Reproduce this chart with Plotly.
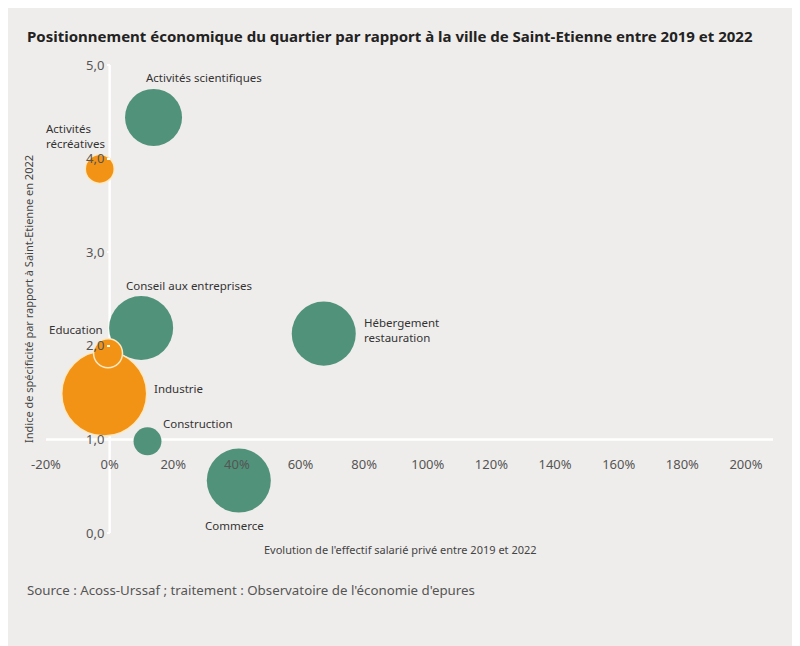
import plotly.graph_objects as go

# ---- data ----
secteurs = ["Activités scientifiques", "Activités<br>récréatives", "Conseil aux entreprises",
            "Hébergement<br>restauration", "Construction", "Commerce", "Industrie", "Education"]
evolution = [13.8, -3.1, 9.9, 67.3, 11.9, 40.6, -1.7, -0.5]          # % 2019-2022
indice = [4.44, 3.89, 2.19, 2.13, 0.98, 0.56, 1.49, 1.92]           # indice de spécificité
effectif = [325, 84, 410, 410, 78, 410, 722, 84]                   # bubble weight
groupe = ["g", "o", "g", "g", "g", "g", "o", "o"]

x_ticks = [-20, 0, 20, 40, 60, 80, 100, 120, 140, 160, 180, 200]
x_tick_labels = ["-20%", "0%", "20%", "40%", "60%", "80%", "100%", "120%", "140%", "160%", "180%", "200%"]
y_ticks = [0, 1, 2, 3, 4, 5]
y_tick_labels = ["0,0", "1,0", "2,0", "3,0", "4,0", "5,0"]

GREEN = "#51937a"
ORANGE = "#f39316"
BG = "#efedeb"
FONT = "Noto Sans"

OFF = 8  # page body margin
W, H = 800 - OFF, 646 - OFF
L, R, T, B = 46 - OFF, 27, 65 - OFF, 646 - 533
XR = [-20, 208.5]
YR = [0, 5]


def px_x(p):
    return (p - OFF - L) / (W - L - R)


def px_y(p):
    return (H - B - (p - OFF)) / (H - T - B)


fig = go.Figure()

# bubbles
for i in range(len(secteurs)):
    col = GREEN if groupe[i] == "g" else ORANGE
    line = dict(width=0) if groupe[i] == "g" else dict(width=1.5, color="#fbe9c4")
    fig.add_trace(go.Scatter(
        x=[evolution[i]], y=[indice[i]], mode="markers",
        marker=dict(size=[effectif[i]], sizemode="area", sizeref=0.2, color=col,
                    opacity=1, line=line),
        hoverinfo="skip", showlegend=False, cliponaxis=False))

# labels
lab_pos = {
    "Activités scientifiques": dict(xanchor="left", yanchor="middle", xshift=-10, yshift=40),
    "Activités<br>récréatives": dict(xanchor="left", yanchor="middle", xshift=-56, yshift=33, align="left"),
    "Conseil aux entreprises": dict(xanchor="left", yanchor="middle", xshift=-17, yshift=43),
    "Hébergement<br>restauration": dict(xanchor="left", yanchor="middle", xshift=38, yshift=4, align="left"),
    "Construction": dict(xanchor="left", yanchor="middle", xshift=14, yshift=18),
    "Commerce": dict(xanchor="center", yanchor="middle", xshift=-4, yshift=-45),
    "Industrie": dict(xanchor="left", yanchor="middle", xshift=48, yshift=5),
    "Education": dict(xanchor="right", yanchor="middle", xshift=-3, yshift=24),
}
for i, s in enumerate(secteurs):
    fig.add_annotation(x=evolution[i], y=indice[i], text=s, showarrow=False,
                       font=dict(family=FONT, size=11.5, color="#333333"), **lab_pos[s])

# axis lines
shapes = [
    dict(type="line", xref="x", yref="paper", x0=0, x1=0, y0=0, y1=1,
         line=dict(color="white", width=2.5), layer="below"),
    dict(type="line", xref="paper", yref="y", x0=0, x1=1, y0=1, y1=1,
         line=dict(color="white", width=2.5), layer="below"),
]

fig.add_annotation(xref="paper", yref="paper", x=px_x(25), y=px_y(36), xanchor="left", yanchor="middle",
                   text="<b>Positionnement économique du quartier par rapport à la ville de Saint-Etienne entre 2019 et 2022</b>",
                   showarrow=False, font=dict(family=FONT, size=15, color="#222222"))
fig.add_annotation(xref="paper", yref="paper", x=px_x(28), y=0.5, textangle=-90,
                   xanchor="center", yanchor="middle",
                   text="Indice de spécificité par rapport à Saint-Etienne en 2022",
                   showarrow=False, font=dict(family=FONT, size=11, color="#444444"))
fig.add_annotation(xref="paper", yref="paper", x=px_x(400), y=px_y(549),
                   xanchor="center", yanchor="middle",
                   text="Evolution de l'effectif salarié privé entre 2019 et 2022",
                   showarrow=False, font=dict(family=FONT, size=11, color="#444444"))
fig.add_annotation(xref="paper", yref="paper", x=px_x(25), y=px_y(590), xanchor="left", yanchor="middle",
                   text="Source : Acoss-Urssaf ; traitement : Observatoire de l'économie d'epures",
                   showarrow=False, font=dict(family=FONT, size=13.3, color="#555555"))

fig.update_layout(
    width=W, height=H, margin=dict(l=L, r=R, t=T, b=B, autoexpand=False),
    paper_bgcolor=BG, plot_bgcolor="rgba(0,0,0,0)",
    shapes=shapes, showlegend=False,
    xaxis=dict(range=XR, tickvals=x_ticks, ticktext=x_tick_labels, showgrid=False, zeroline=False,
               showline=False, anchor="free", position=0.2, ticks="outside", ticklen=13,
               tickcolor="rgba(0,0,0,0)", tickfont=dict(family=FONT, size=13, color="#555555"),
               layer="above traces"),
    yaxis=dict(range=YR, tickvals=y_ticks, ticktext=y_tick_labels, showgrid=False, zeroline=False,
               showline=False, anchor="free", position=px_x(110), ticks="outside", ticklen=3,
               tickcolor="white", tickwidth=2, tickfont=dict(family=FONT, size=13, color="#555555"),
               layer="above traces"),
)

fig.write_html("out.html")
